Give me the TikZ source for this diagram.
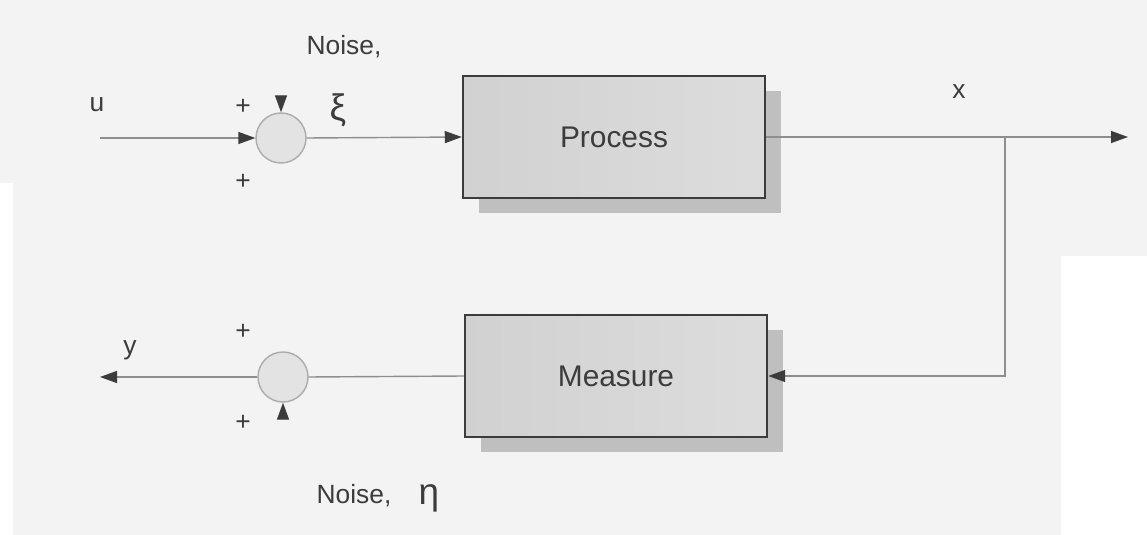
\documentclass[tikz,border=0pt]{standalone}
\usepackage{fontspec}
\setmainfont{Liberation Sans}
\usetikzlibrary{arrows.meta,shadows}

\definecolor{wire}{HTML}{8E8E8E}
\definecolor{ink}{HTML}{3C3C3C}
\definecolor{paper}{HTML}{F3F3F3}

\tikzset{
  block/.style={draw=ink, line width=1.4pt, minimum width=6.04cm, minimum height=2.44cm,
    left color=gray!36, middle color=gray!17, right color=gray!27,
    drop shadow={shadow xshift=3.2mm, shadow yshift=-3mm, fill=gray!50, opacity=1},
    text=ink, font=\fontsize{17}{20}\selectfont},
  sumj/.style={circle, draw=gray!65, line width=0.8pt, fill=gray!22,
    minimum size=1cm, inner sep=0pt},
  sig/.style={draw=wire, line width=0.8pt},
  sigarr/.style={sig, -{Triangle[length=3.4mm,width=2.4mm,color=ink]}},
  lbl/.style={text=ink, font=\fontsize{15}{18}\selectfont},
  greek/.style={text=ink, font=\fontsize{21}{24}\selectfont},
}

\begin{document}
\begin{tikzpicture}[x=0.2mm, y=-0.2mm]
    % page
    \fill[paper] (0,0) rectangle (1147,535);
    \fill[white] (0,183) rectangle (13,535);
    \fill[white] (1061,256) rectangle (1147,535);
    \useasboundingbox (0,0) rectangle (1147,535);

    \coordinate (u) at (100,138);
    \coordinate (xiIn) at (281,104);
    \coordinate (xOut) at (1128,137);
    \coordinate (branch) at (1005,137);
    \coordinate (y) at (100,377);
    \coordinate (etaIn) at (283,411);

    \node[sumj] (sum1) at (281,138) {};
    \node[block] (proc) at (614,137) {Process};
    \node[block] (meas) at (616,376) {Measure};
    \node[sumj] (sum2) at (283,377) {};

    \node[lbl] (lu) at (97,105) {u};
    \node[lbl] (lp1) at (243,107) {+};
    \node[lbl] (lp2) at (243,182) {+};
    \node[lbl] (lnoise1) at (344,47) {Noise,};
    \node[greek] (lxi) at (338,110) {ξ};
    \node[lbl] (lx) at (959,92) {x};
    \node[lbl] (ly) at (130,350) {y};
    \node[lbl] (lp3) at (243,332) {+};
    \node[lbl] (lp4) at (243,423) {+};
    \node[lbl] (lnoise2) at (354,496) {Noise,};
    \node[greek] (leta) at (429,498) {η};

    % forward path
    \draw[sigarr] (u) -- (sum1.west);
    \draw[sigarr] (xiIn) -- (sum1.north);
    \draw[sigarr] (sum1.east) -- (proc.west);
    \draw[sigarr] (proc.east) -- (xOut);
    % feedback path
    \draw[sigarr] (branch) |- (meas.east);
    \draw[sig] (meas.west) -- (sum2.east);
    \draw[sigarr] (sum2.west) -- (y);
    \draw[sigarr] (etaIn) -- (sum2.south);
\end{tikzpicture}
\end{document}
